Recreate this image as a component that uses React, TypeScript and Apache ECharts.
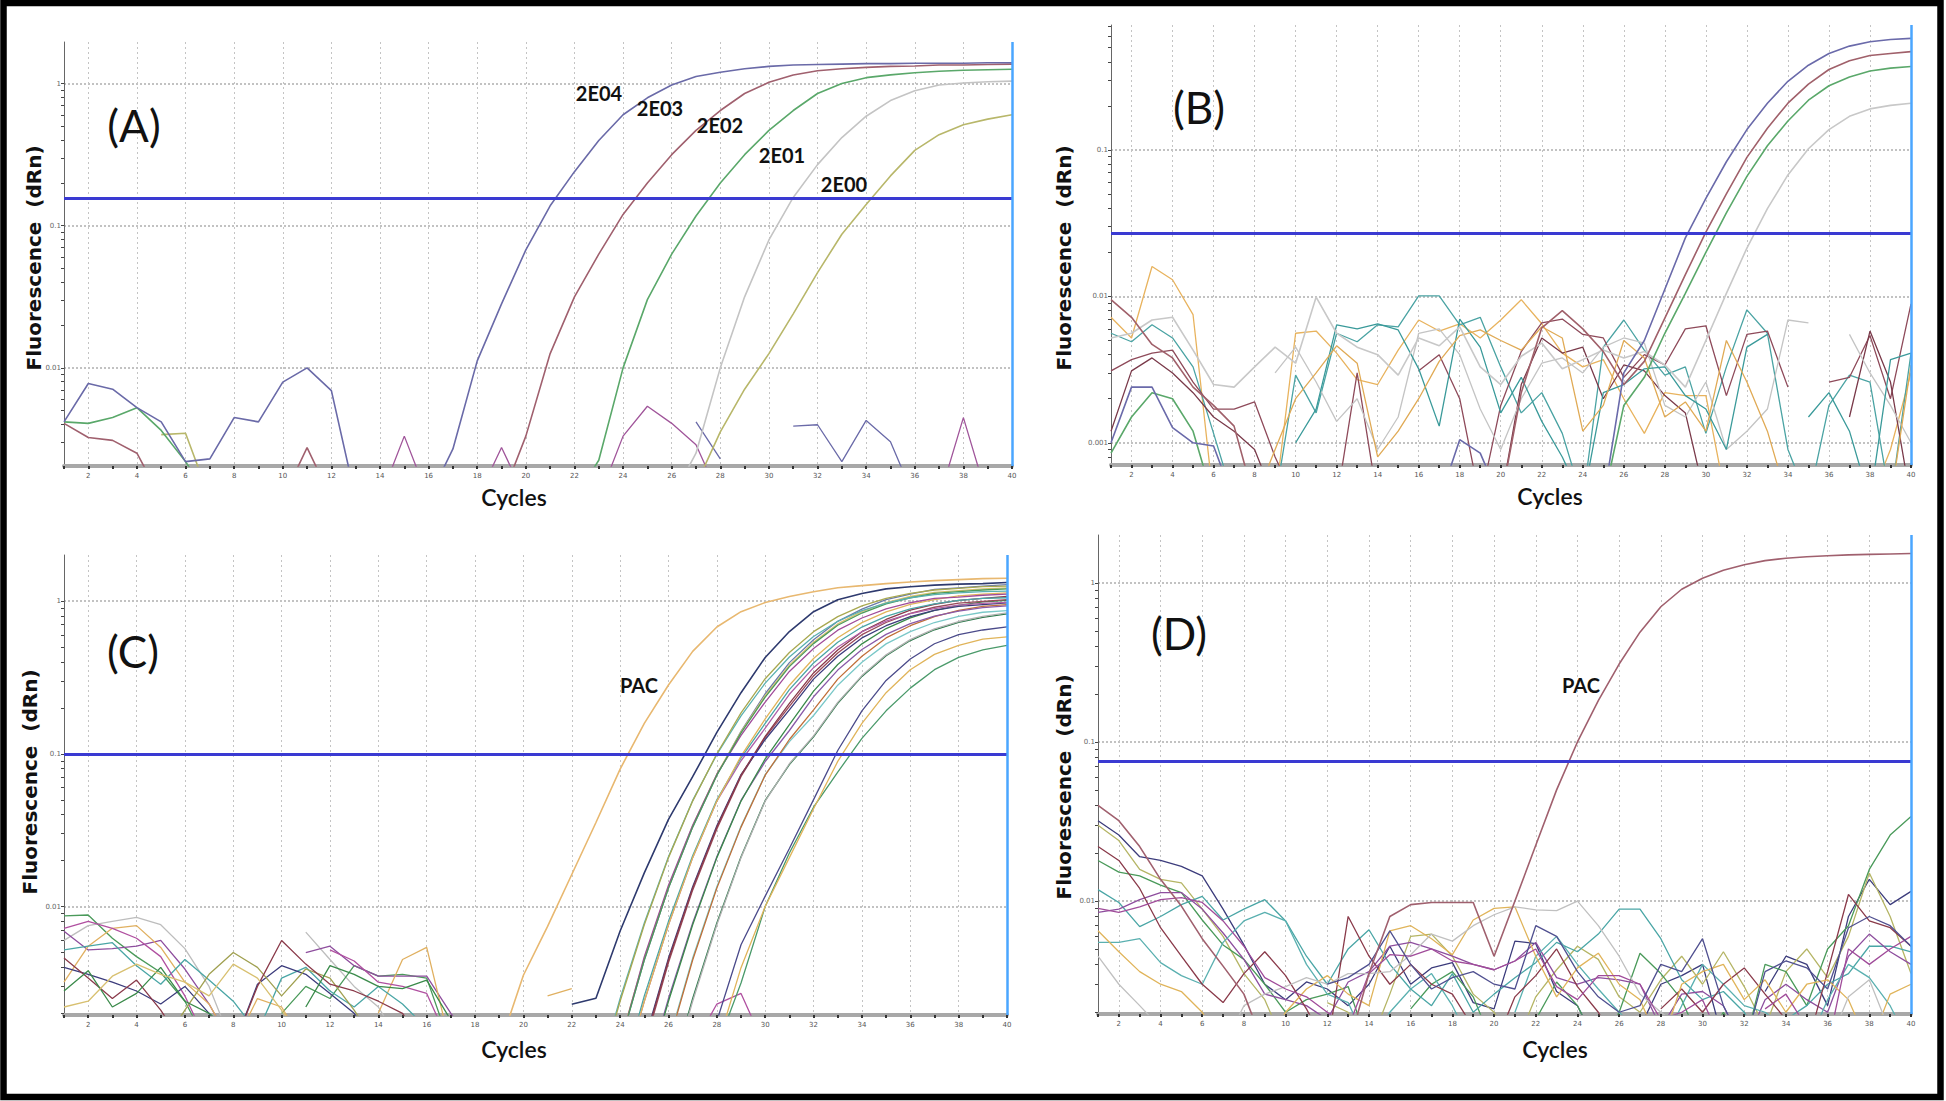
import React, { useEffect, useRef } from "react";
import * as echarts from "echarts";

// ---------- axes ----------
const CYCLES = [1, 2, 3, 4, 5, 6, 7, 8, 9, 10, 11, 12, 13, 14, 15, 16, 17, 18, 19, 20, 21, 22, 23, 24, 25, 26, 27, 28, 29, 30, 31, 32, 33, 34, 35, 36, 37, 38, 39, 40];
const EVEN_CYCLES = [2, 4, 6, 8, 10, 12, 14, 16, 18, 20, 22, 24, 26, 28, 30, 32, 34, 36, 38, 40];
const DECADE_VALUES = [0.001, 0.01, 0.1, 1];
const DECADE_LABELS = ["0.001", "0.01", "0.1", "1"];
const MINOR_TICK_VALUES = [0.0008, 0.0009, 0.001, 0.002, 0.003, 0.004, 0.005, 0.006, 0.007, 0.008, 0.009, 0.01, 0.02, 0.03, 0.04, 0.05, 0.06, 0.07, 0.08, 0.09, 0.1, 0.2, 0.3, 0.4, 0.5, 0.6, 0.7, 0.8, 0.9, 1];

// y ranges (dRn) and thresholds
const A_RANGE = [0.00204, 1.96];
const B_RANGE = [0.000705, 0.715];
const C_RANGE = [0.00195, 2.0];
const D_RANGE = [0.00195, 2.0];
const A_THRESHOLD = 0.154;
const B_THRESHOLD = 0.0268;
const C_THRESHOLD = 0.1;
const D_THRESHOLD = 0.0764;

// ---------- panel A (dRn per cycle, starting at cycle 1) ----------
const A_2E04 = [0.00417, 0.00776, 0.00708, 0.00525, 0.00417, 0.00219, 0.00229, 0.00447, 0.00417, 0.00794,
  0.0100, 0.00692, 0.0012, null, null, 0.0012, 0.00269, 0.0112, 0.0282, 0.0676,
  0.138, 0.240, 0.398, 0.603, 0.794, 0.977, 1.12, 1.20, 1.27, 1.32,
  1.35, 1.36, 1.37, 1.38, 1.38, 1.39, 1.39, 1.39, 1.40, 1.40];
const A_2E03 = [0.00407, 0.00324, 0.00309, 0.00251, 0.0012, null, null, null, null, 0.0012,
  0.00275, 0.0012, null, null, null, null, null, null, 0.0012, 0.00331,
  0.0126, 0.0316, 0.0631, 0.120, 0.200, 0.316, 0.468, 0.646, 0.851, 1.02,
  1.15, 1.23, 1.27, 1.30, 1.32, 1.33, 1.35, 1.35, 1.36, 1.37];
const A_2E02 = [0.00417, 0.00407, 0.00447, 0.00525, 0.00363, 0.00219, 0.0012, null, null, null,
  null, null, null, null, null, null, null, null, null, null,
  null, 0.0012, 0.00224, 0.0100, 0.0302, 0.0631, 0.117, 0.200, 0.316, 0.468,
  0.646, 0.851, 1.00, 1.10, 1.15, 1.19, 1.22, 1.24, 1.25, 1.26];
const A_2E01 = [null, null, null, null, null, null, null, null, null, null,
  null, null, null, null, null, null, null, null, null, null,
  null, null, null, null, null, 0.0012, 0.00251, 0.0100, 0.0316, 0.0794,
  0.158, 0.269, 0.417, 0.589, 0.759, 0.891, 0.977, 1.01, 1.03, 1.04];
const A_2E00 = [null, null, null, null, 0.00339, 0.00347, 0.0012, null, null, null,
  null, null, null, null, null, null, null, null, null, null,
  null, null, null, null, null, null, 0.0015, 0.00355, 0.00708, 0.0126,
  0.0240, 0.0468, 0.0871, 0.141, 0.224, 0.339, 0.437, 0.513, 0.562, 0.603];
const A_NOISE_MAGENTA = [null, null, null, null, null, null, null, null, null, null,
  null, null, null, 0.0012, 0.00331, 0.0012, null, 0.0012, 0.00275, 0.0012,
  null, null, 0.0012, 0.00331, 0.00537, 0.00407, 0.00288, 0.0012, null, null,
  null, null, null, null, null, null, 0.0012, 0.00447, 0.0012, null];
const A_NOISE_BLUE = [null, null, null, null, null, null, null, null, null, null,
  null, null, null, null, null, null, null, null, null, null,
  null, null, null, null, null, null, 0.00417, 0.00229, null, null,
  0.00389, 0.00398, 0.00219, 0.00427, 0.00302, 0.0012, null, null, null, null];

// ---------- panel B ----------
const B_AMP_BLUE = [0.0010, 0.0024, 0.0024, 0.00127, 0.0010, 0.00095, 0.0004, null, null, null,
  null, null, null, null, null, null, 0.0004, 0.00105, 0.00085, 0.0004,
  null, null, null, null, 0.0004, 0.0030, 0.0050, 0.0112, 0.0251, 0.0468,
  0.0832, 0.138, 0.209, 0.295, 0.380, 0.457, 0.513, 0.550, 0.569, 0.579];
const B_AMP_BROWN = [0.0095, 0.0072, 0.0047, 0.0038, 0.0024, 0.0018, 0.0013, 0.0004, null, null,
  null, null, null, null, null, null, null, null, null, 0.0004,
  0.0022, 0.0061, 0.0080, 0.0060, 0.0042, 0.0025, 0.0036, 0.0071, 0.0141, 0.0275,
  0.0501, 0.0891, 0.141, 0.209, 0.282, 0.355, 0.407, 0.442, 0.457, 0.470];
const B_AMP_GREEN = [0.00085, 0.0015, 0.0022, 0.0020, 0.0012, 0.0004, null, null, null, null,
  null, null, null, null, null, null, null, null, null, null,
  null, null, null, null, 0.0004, 0.0018, 0.0028, 0.0056, 0.0105, 0.0200,
  0.0372, 0.0661, 0.107, 0.158, 0.219, 0.275, 0.316, 0.347, 0.363, 0.372];
const B_AMP_GRAY = [0.0052, 0.0056, 0.0069, 0.0072, 0.0043, 0.0025, 0.0024, 0.0033, 0.0045, 0.0035,
  0.0099, 0.0056, 0.0045, 0.0040, 0.0029, 0.0052, 0.0046, 0.0062, 0.0033, 0.0025,
  0.0039, 0.0048, 0.0032, 0.0037, 0.0043, 0.0038, 0.0042, 0.0034, 0.0024, 0.0050,
  0.0105, 0.0214, 0.0398, 0.0676, 0.102, 0.138, 0.170, 0.191, 0.202, 0.209];
const B_NOISE_ORANGE = [0.0072, 0.0052, 0.0160, 0.0130, 0.0075, 0.0004, null, null, 0.0004, 0.0056,
  0.0058, 0.0041, 0.0027, 0.0025, 0.0043, 0.0069, 0.0058, 0.0065, 0.0052, 0.0069,
  0.0095, 0.0065, 0.0041, 0.0033, 0.0037, 0.0020, 0.00116, 0.0022, 0.0021, 0.0021,
  0.0004, null, null, null, null, null, null, 0.0004, 0.0009, 0.0030];
const B_NOISE_TEAL = [0.0056, 0.0049, 0.0064, 0.0052, 0.0033, 0.00116, 0.0004, null, 0.0004, 0.0029,
  0.0016, 0.0056, 0.0049, 0.0064, 0.0062, 0.0101, 0.0101, 0.0064, 0.0072, 0.0033,
  0.0016, 0.0022, 0.00116, 0.0004, 0.0045, 0.0069, 0.0043, 0.0029, 0.0033, 0.00116,
  0.0033, 0.0081, 0.0056, 0.0009, 0.0004, 0.0018, 0.0029, 0.0026, 0.0004, 0.0041];
const B_NOISE_MAROON = [0.0031, 0.0037, 0.0041, 0.0043, 0.0026, 0.0017, 0.0017, 0.0019, 0.0008, 0.0004,
  null, 0.0004, 0.0030, 0.0004, null, 0.0031, 0.0040, 0.0020, 0.0004, 0.0018,
  0.0042, 0.0066, 0.0070, 0.0055, 0.0052, 0.0028, 0.0040, 0.0034, 0.0060, 0.0063,
  0.0021, 0.0055, 0.0058, 0.0024, null, 0.0026, 0.0028, 0.0054, 0.0020, 0.0089];
const B_NOISE_MAROON2 = [0.0012, 0.0031, 0.0038, 0.0030, 0.0022, 0.0015, 0.0012, 0.0009, 0.0004, null,
  null, null, null, null, null, null, null, null, null, 0.0004,
  0.0025, 0.0052, 0.0041, 0.0045, 0.0020, 0.0034, 0.0031, 0.0021, 0.0016, 0.0004,
  null, null, null, null, null, null, 0.0015, 0.0058, 0.0026, 0.0004];
const B_NOISE_GRAY = [null, null, null, null, null, null, null, null, 0.0030, 0.0045,
  0.0026, 0.0014, 0.0020, 0.0009, 0.0015, 0.0056, 0.0060, 0.0040, 0.0017, 0.0009,
  0.0020, 0.0035, 0.0038, 0.0030, 0.0045, 0.0052, 0.0048, 0.0018, 0.0015, 0.0026,
  0.0009, 0.0012, 0.0017, 0.0069, 0.0066, null, 0.0055, 0.0030, 0.0018, 0.0010];
const B_NOISE_TEAL2 = [null, null, null, null, null, null, null, null, null, 0.0010,
  0.0017, 0.0064, 0.0060, 0.0065, 0.0059, 0.0032, 0.0013, 0.0070, 0.0045, 0.0016,
  0.0028, 0.0014, 0.0008, 0.0004, 0.0022, 0.0025, 0.0032, 0.0033, 0.0021, 0.0017,
  0.0009, 0.0045, 0.0055, null, 0.0015, 0.0022, 0.0012, 0.0004, 0.0037, 0.0041];
const B_NOISE_ORANGE2 = [null, null, null, null, null, null, null, 0.0004, 0.0009, 0.0020,
  0.0030, 0.0046, 0.0035, 0.0008, 0.0012, 0.0020, 0.0036, 0.0054, 0.0059, 0.0050,
  0.0043, 0.0062, 0.0052, 0.0012, 0.0018, 0.0050, 0.0038, 0.0015, 0.0019, 0.0012,
  0.0050, 0.0026, 0.0012, 0.0004, null, null, null, null, 0.0004, 0.0034];

// ---------- panel C (curves listed from their first plotted cycle) ----------
const C_PAC = [0.0012, 0.00355, 0.00741, 0.0162, 0.0355, 0.0794, 0.158, 0.282, 0.468, 0.676, 0.851, 0.977, 1.07, 1.15, 1.22, 1.26, 1.30, 1.33, 1.36, 1.38, 1.40, 1.41]; // from cycle 19
const C_S01 = [0.00229, 0.00251, 0.00692, 0.0166, 0.0372, 0.0708, 0.138, 0.251, 0.427, 0.631, 0.851, 1.02, 1.12, 1.20, 1.24, 1.27, 1.29, 1.30, 1.32]; // from 22
const C_S02 = [0.00068, 0.0024, 0.0076, 0.0209, 0.049, 0.100, 0.185, 0.31, 0.46, 0.63, 0.79, 0.93, 1.04, 1.12, 1.18, 1.21, 1.24, 1.25]; // from 23
const C_S03 = [0.0007, 0.0025, 0.0078, 0.0212, 0.0495, 0.099, 0.177, 0.290, 0.430, 0.586, 0.737, 0.866, 0.969, 1.05, 1.10, 1.13, 1.15, 1.16]; // from 23
const C_S04 = [0.00126, 0.00447, 0.0132, 0.0331, 0.0724, 0.137, 0.235, 0.372, 0.526, 0.694, 0.834, 0.957, 1.05, 1.12, 1.15, 1.18, 1.20]; // from 24
const C_S05 = [0.00126, 0.0047, 0.0138, 0.0340, 0.0735, 0.132, 0.218, 0.346, 0.489, 0.644, 0.774, 0.889, 0.974, 1.04, 1.06, 1.09, 1.11]; // from 24
const C_S06 = [0.0013, 0.0046, 0.0135, 0.0338, 0.0735, 0.139, 0.240, 0.380, 0.537, 0.708, 0.851, 0.977, 1.07, 1.14, 1.17, 1.20, 1.22]; // from 24
const C_S07 = [0.00126, 0.00447, 0.0132, 0.0331, 0.0724, 0.140, 0.247, 0.395, 0.558, 0.736, 0.885, 1.02, 1.11, 1.19, 1.22, 1.25, 1.28]; // from 24
const C_S08 = [0.00068, 0.0024, 0.0076, 0.0209, 0.049, 0.0965, 0.169, 0.281, 0.420, 0.574, 0.722, 0.848, 0.949, 1.02, 1.08, 1.11, 1.13]; // from 24
const C_S09 = [0.0007, 0.0026, 0.0080, 0.0215, 0.050, 0.094, 0.158, 0.263, 0.393, 0.537, 0.675, 0.793, 0.887, 0.957, 1.01, 1.04, 1.05]; // from 24
const C_S10 = [0.00068, 0.0024, 0.0076, 0.0209, 0.049, 0.090, 0.147, 0.245, 0.366, 0.500, 0.629, 0.739, 0.826, 0.891, 0.940, 0.964, 0.980]; // from 24
const C_S11 = [0.00126, 0.00447, 0.0132, 0.0331, 0.0724, 0.130, 0.214, 0.338, 0.478, 0.630, 0.757, 0.870, 0.952, 1.01, 1.04, 1.07]; // from 25
const C_S12 = [0.0013, 0.0046, 0.0135, 0.0338, 0.0730, 0.124, 0.194, 0.308, 0.435, 0.573, 0.689, 0.791, 0.867, 0.923, 0.948, 0.972]; // from 25
const C_S13 = [0.0012, 0.0043, 0.0128, 0.0322, 0.0710, 0.128, 0.204, 0.323, 0.456, 0.602, 0.723, 0.830, 0.910, 0.969, 0.995, 1.02]; // from 25
const C_S14 = [0.00068, 0.0024, 0.0076, 0.0209, 0.049, 0.0925, 0.155, 0.257, 0.384, 0.524, 0.660, 0.775, 0.867, 0.935, 0.986, 1.01]; // from 25
const C_S15 = [0.0007, 0.0025, 0.0078, 0.0212, 0.0495, 0.089, 0.142, 0.236, 0.353, 0.481, 0.605, 0.711, 0.796, 0.858, 0.905, 0.928]; // from 25
const C_S16 = [0.00126, 0.00447, 0.0132, 0.0331, 0.0724, 0.124, 0.194, 0.308, 0.435, 0.573, 0.689, 0.791, 0.867, 0.923, 0.948]; // from 26
const C_S17 = [0.0013, 0.0046, 0.0135, 0.0335, 0.0730, 0.120, 0.178, 0.281, 0.397, 0.524, 0.630, 0.723, 0.792, 0.844, 0.866]; // from 26
const C_S18 = [0.00068, 0.0024, 0.0076, 0.0209, 0.049, 0.086, 0.131, 0.217, 0.325, 0.444, 0.559, 0.657, 0.734, 0.792, 0.835]; // from 26
const C_S19 = [0.0007, 0.0025, 0.0078, 0.0212, 0.0495, 0.085, 0.129, 0.214, 0.321, 0.438, 0.551, 0.648, 0.724, 0.781, 0.824]; // from 26
const C_LATE1 = [0.00178, 0.00562, 0.0117, 0.0240, 0.0501, 0.105, 0.191, 0.302, 0.417, 0.525, 0.603, 0.646, 0.676]; // from 28
const C_LATE2 = [0.0012, 0.00398, 0.0100, 0.0209, 0.0437, 0.0891, 0.158, 0.251, 0.355, 0.447, 0.513, 0.562, 0.583]; // from 28
const C_LATE3 = [0.0012, 0.00316, 0.0100, 0.0224, 0.0447, 0.0759, 0.126, 0.191, 0.269, 0.355, 0.427, 0.479, 0.513]; // from 28
// baseline noise, from cycle 1
const C_N01 = [0.0060, 0.0075, 0.0080, 0.0085, 0.0076, 0.0053, 0.0030, 0.0012, null, null, 0.0068, 0.0045, 0.0030, 0.0022, 0.0012];
const C_N02 = [0.0087, 0.0088, 0.0062, 0.0047, 0.0037, 0.0024, 0.0012, null, null, 0.0020, 0.0030, 0.0025, 0.0041, 0.0035, 0.0036, 0.0034, 0.0012];
const C_N03 = [0.0069, 0.0052, 0.0053, 0.0055, 0.0060, 0.0039, 0.0023, 0.0012, null, null, 0.0050, 0.0055, 0.0041, 0.0035, 0.0035, 0.0035, 0.0020, 0.0012];
const C_N04 = [0.0032, 0.0055, 0.0072, 0.0075, 0.0054, 0.0032, 0.0023, 0.0012, 0.0025, 0.0022, 0.0012, null, null, 0.0020, 0.0045, 0.0054, 0.0012];
const C_N05 = [0.0052, 0.0055, 0.0058, 0.0041, 0.0031, 0.0045, 0.0033, 0.0024, 0.0015, 0.0034, 0.0040, 0.0028, 0.0022, 0.0030, 0.0023, 0.0016, 0.0012];
const C_N06 = [0.0072, 0.0080, 0.0072, 0.0062, 0.0047, 0.0026, 0.0012, null, null, null, null, 0.0052, 0.0044, 0.0032, 0.0030, 0.0027, 0.0012, null, null, null, null, null, null, null, null, null, 0.0012, 0.0023, 0.0027, 0.0012];
const C_N07 = [0.0040, 0.0036, 0.0032, 0.0028, 0.0023, 0.0030, 0.0020, 0.0012, 0.0031, 0.0041, 0.0036, 0.0027, 0.0020, 0.0012];
const C_N08 = [null, null, null, null, 0.0012, 0.0021, 0.0036, 0.0050, 0.0040, 0.0026, 0.0039, 0.0034, 0.0021, 0.0012];
const C_N09 = [0.0046, 0.0034, 0.0025, 0.0033, 0.0021, 0.0012, null, 0.0012, 0.0030, 0.0060, 0.0042, 0.0031, 0.0028, 0.0024, 0.0020, 0.0012];
const C_N10 = [0.0028, 0.0038, 0.0022, 0.0027, 0.0040, 0.0024, 0.0020, 0.0015, 0.0012, null, 0.0022, 0.0041, 0.0036, 0.0030, 0.0029, 0.0033, 0.0018, 0.0012];
const C_N11 = [0.0022, 0.0024, 0.0035, 0.0042, 0.0036, 0.0032, 0.0026, 0.0042, 0.0034, 0.0021, 0.0012];
const C_N12 = [0.0026, 0.0029]; // from 21

// ---------- panel D ----------
const D_PAC = [0.040, 0.032, 0.022, 0.0137, 0.0093, 0.0058, 0.0039, 0.0026, 0.0012, null,
  null, null, 0.0012, 0.0035, 0.0080, 0.0095, 0.0098, 0.0098, 0.0098, 0.0045,
  0.0100, 0.0224, 0.0500, 0.100, 0.182, 0.309, 0.490, 0.708, 0.912, 1.07,
  1.20, 1.30, 1.38, 1.43, 1.46, 1.48, 1.50, 1.51, 1.52, 1.53];
const D_N01 = [0.032, 0.026, 0.019, 0.018, 0.0165, 0.0144, 0.0089, 0.0053, 0.0030, 0.0024,
  0.0031, 0.0028, 0.0022, 0.0030, 0.0052, 0.0030, 0.0038, 0.0041, 0.0023, 0.0021,
  0.0056, 0.0054, 0.0027, 0.0022, 0.0012, null, 0.0016, 0.0030, 0.0034, 0.0040,
  0.0013, null, 0.0027, 0.0045, 0.0040, 0.0022, 0.0080, 0.0137, 0.0095, 0.0115];
const D_N02 = [0.030, 0.024, 0.0158, 0.0137, 0.013, 0.0089, 0.0060, 0.0035, 0.0024, 0.0012,
  null, 0.0023, 0.0020, 0.0012, 0.0026, 0.0060, 0.0062, 0.0045, 0.0026, 0.0020,
  0.0012, 0.0025, 0.0037, 0.0052, 0.0043, 0.0025, 0.0020, 0.0032, 0.0045, 0.0030,
  0.0048, 0.0029, 0.0016, 0.0036, 0.0050, 0.0033, 0.0060, 0.0150, 0.0080, 0.0035];
const D_N03 = [0.018, 0.0152, 0.0144, 0.0126, 0.0113, 0.0076, 0.0053, 0.0043, 0.0030, 0.0020,
  0.0024, 0.0026, 0.0029, 0.0012, null, 0.0021, 0.0030, 0.0036, 0.0025, 0.0012,
  null, 0.0018, 0.0031, 0.0022, 0.0012, 0.0020, 0.0047, 0.0035, 0.0024, 0.0012,
  0.0020, 0.0012, 0.0040, 0.0036, 0.0022, 0.0050, 0.0070, 0.0158, 0.026, 0.034];
const D_N04 = [0.0118, 0.0098, 0.0069, 0.0080, 0.0095, 0.0107, 0.0076, 0.0089, 0.0102, 0.0075,
  0.0045, 0.0030, 0.0050, 0.0066, 0.0040, 0.0028, 0.0022, 0.0035, 0.0020, 0.0026,
  0.0033, 0.0041, 0.0055, 0.0048, 0.0062, 0.0089, 0.0089, 0.0058, 0.0032, 0.0024,
  0.0027, 0.0020, 0.0012, 0.0018, 0.0022, 0.0030, 0.0035, 0.0052, 0.0052, 0.0048];
const D_N05 = [0.0085, 0.0089, 0.0102, 0.0113, 0.0113, 0.0089, 0.0063, 0.0043, 0.0026, 0.0024,
  0.0022, 0.0018, 0.0031, 0.0036, 0.0052, 0.0055, 0.0050, 0.0045, 0.0040, 0.0037,
  0.0042, 0.0055, 0.0033, 0.0030, 0.0033, 0.0032, 0.0030, 0.0016, 0.0026, 0.0027,
  0.0022, 0.0012, 0.0024, 0.0030, 0.0024, 0.0020, 0.0045, 0.0062, 0.0048, 0.0040];
const D_N06 = [0.0055, 0.0055, 0.0058, 0.0041, 0.0034, 0.0030, 0.0055, 0.0075, 0.0085, 0.0075,
  0.0040, 0.0026, 0.0023, 0.0012, 0.0020, 0.0028, 0.0035, 0.0022, 0.0012, null,
  0.0020, 0.0045, 0.0060, 0.0040, 0.0028, 0.0020, 0.0015, 0.0012, 0.0022, 0.0040,
  0.0030, 0.0022, 0.0020, 0.0016, 0.0012, 0.0024, 0.0040, 0.0033, 0.0022, 0.0012];
const D_N07 = [0.022, 0.018, 0.012, 0.0068, 0.0045, 0.0030, 0.0023, 0.0035, 0.0048, 0.0034,
  0.0021, 0.0012, 0.0080, 0.0045, 0.0030, 0.0040, 0.0030, 0.0026, 0.0016, 0.0012,
  0.0025, 0.0034, 0.0050, 0.0029, 0.0020, 0.0012, null, 0.0021, 0.0028, 0.0020,
  0.0030, 0.0038, 0.0026, 0.0018, 0.0012, 0.0036, 0.0110, 0.0075, 0.0068, 0.0052];
const D_N08 = [0.0065, 0.0048, 0.0036, 0.0030, 0.0027, 0.0020, 0.0012, null, 0.0012, 0.0020,
  0.0028, 0.0034, 0.0026, 0.0022, 0.0065, 0.0070, 0.0058, 0.0046, 0.0076, 0.0090,
  0.0092, 0.0045, 0.0025, 0.0038, 0.0047, 0.0030, 0.0024, 0.0012, 0.0030, 0.0036,
  0.0040, 0.0024, 0.0032, 0.0020, 0.0030, 0.0032, 0.0024, 0.0012, 0.0026, 0.0030];
const D_N09 = [0.0045, 0.0030, 0.0022, 0.0016, 0.0012, null, 0.0012, 0.0022, 0.0026, 0.0029,
  0.0033, 0.0030, 0.0035, 0.0035, 0.0036, 0.0046, 0.0062, 0.0056, 0.0070, 0.0082,
  0.0092, 0.0088, 0.0087, 0.0100, 0.0070, 0.0045, 0.0026, 0.0020, 0.0016, 0.0012,
  null, null, null, null, null, 0.0012, 0.0025, 0.0032, 0.0015, 0.0012];
const D_N10 = [0.0090, 0.0085, 0.0092, 0.0102, 0.0105, 0.0098, 0.0075, 0.0052, 0.0033, 0.0028,
  0.0025, 0.0020, 0.0016, 0.0035, 0.0046, 0.0045, 0.0050, 0.0042, 0.0040, 0.0037,
  0.0042, 0.0050, 0.0029, 0.0024, 0.0034, 0.0034, 0.0030, 0.0018, 0.0020, 0.0024,
  0.0012, null, 0.0021, 0.0026, 0.0016, 0.0012, 0.0050, 0.0040, 0.0050, 0.0060];
const D_N11 = [null, null, null, null, null, null, null, null, null, null,
  null, 0.0030, 0.0033, 0.0040, 0.0065, 0.0040, 0.0028, 0.0033, 0.0036, 0.0030,
  0.0028, 0.0070, 0.0060, 0.0036, 0.0025, 0.0020, 0.0022, 0.0040, 0.0036, 0.0058,
  0.0022, 0.0012, 0.0036, 0.0042, 0.0038, 0.0028, 0.0068, 0.0080, 0.0070, 0.0052];

// ---------- series lists ----------
type Curve = { color: string; start: number; values: (number | null)[]; width?: number };

const A_CURVES: Curve[] = [
  { color: "#a0559a", start: 1, values: A_NOISE_MAGENTA },
  { color: "#6a6aa8", start: 1, values: A_NOISE_BLUE },
  { color: "#b8b76a", start: 1, values: A_2E00, width: 1.6 },
  { color: "#c4c4c4", start: 1, values: A_2E01, width: 1.6 },
  { color: "#5aa86a", start: 1, values: A_2E02, width: 1.6 },
  { color: "#a0606e", start: 1, values: A_2E03, width: 1.6 },
  { color: "#6a6aa8", start: 1, values: A_2E04, width: 1.6 },
];
const B_CURVES: Curve[] = [
  { color: "#e8b35e", start: 1, values: B_NOISE_ORANGE },
  { color: "#4aa3a3", start: 1, values: B_NOISE_TEAL },
  { color: "#8e4a5a", start: 1, values: B_NOISE_MAROON },
  { color: "#7a3a4a", start: 1, values: B_NOISE_MAROON2 },
  { color: "#c4c4c4", start: 1, values: B_NOISE_GRAY },
  { color: "#3a9a9a", start: 1, values: B_NOISE_TEAL2 },
  { color: "#e0aa55", start: 1, values: B_NOISE_ORANGE2 },
  { color: "#c8c8c8", start: 1, values: B_AMP_GRAY, width: 1.6 },
  { color: "#5aa86a", start: 1, values: B_AMP_GREEN, width: 1.6 },
  { color: "#a0606a", start: 1, values: B_AMP_BROWN, width: 1.6 },
  { color: "#6a6aaa", start: 1, values: B_AMP_BLUE, width: 1.6 },
];
const C_CURVES: Curve[] = [
  { color: "#bdbdbd", start: 1, values: C_N01 },
  { color: "#4a9a5a", start: 1, values: C_N02 },
  { color: "#8e4e9e", start: 1, values: C_N03 },
  { color: "#e0b060", start: 1, values: C_N04 },
  { color: "#4aa6a6", start: 1, values: C_N05 },
  { color: "#b050a0", start: 1, values: C_N06 },
  { color: "#3c3c7c", start: 1, values: C_N07 },
  { color: "#a0a050", start: 1, values: C_N08 },
  { color: "#8a3a4a", start: 1, values: C_N09 },
  { color: "#3a8a4a", start: 1, values: C_N10 },
  { color: "#d8c070", start: 1, values: C_N11 },
  { color: "#e0b060", start: 21, values: C_N12 },
  { color: "#4a9a6a", start: 28, values: C_LATE3 },
  { color: "#e0b45a", start: 28, values: C_LATE2 },
  { color: "#4a4a8a", start: 28, values: C_LATE1 },
  { color: "#2a7a4a", start: 26, values: C_S19 },
  { color: "#b0b0b0", start: 26, values: C_S18 },
  { color: "#7ac8c8", start: 26, values: C_S17 },
  { color: "#c0703a", start: 26, values: C_S16 },
  { color: "#8a5aa8", start: 25, values: C_S15 },
  { color: "#3a8a4a", start: 25, values: C_S14 },
  { color: "#9a4a5a", start: 25, values: C_S13 },
  { color: "#3c3c7c", start: 25, values: C_S12 },
  { color: "#8a3a4a", start: 25, values: C_S11 },
  { color: "#b060a8", start: 24, values: C_S10 },
  { color: "#4aa6a6", start: 24, values: C_S09 },
  { color: "#e0b45a", start: 24, values: C_S08 },
  { color: "#6a7aa8", start: 24, values: C_S07 },
  { color: "#d8c070", start: 24, values: C_S06 },
  { color: "#a04c9a", start: 24, values: C_S05 },
  { color: "#4a9a5a", start: 24, values: C_S04 },
  { color: "#5ab0b0", start: 23, values: C_S03 },
  { color: "#a8a850", start: 23, values: C_S02 },
  { color: "#2e3a6e", start: 22, values: C_S01, width: 1.6 },
  { color: "#e8b870", start: 19, values: C_PAC, width: 1.6 },
];
const D_CURVES: Curve[] = [
  { color: "#3c3c7c", start: 1, values: D_N01 },
  { color: "#b5b565", start: 1, values: D_N02 },
  { color: "#4a9a5a", start: 1, values: D_N03 },
  { color: "#4aa6a6", start: 1, values: D_N04 },
  { color: "#8e4e9e", start: 1, values: D_N05 },
  { color: "#5ab0b0", start: 1, values: D_N06 },
  { color: "#8a3a4a", start: 1, values: D_N07 },
  { color: "#e0b45a", start: 1, values: D_N08 },
  { color: "#c0c0c0", start: 1, values: D_N09 },
  { color: "#a04c9a", start: 1, values: D_N10 },
  { color: "#505090", start: 1, values: D_N11 },
  { color: "#a0606e", start: 1, values: D_PAC, width: 1.6 },
];

// ---------- layout ----------
const PANELS = [
  { grid: { left: 64, top: 42, width: 948, height: 424 }, range: A_RANGE, threshold: A_THRESHOLD, curves: A_CURVES },
  { grid: { left: 1111, top: 25, width: 800, height: 440 }, range: B_RANGE, threshold: B_THRESHOLD, curves: B_CURVES },
  { grid: { left: 64, top: 555, width: 943, height: 460 }, range: C_RANGE, threshold: C_THRESHOLD, curves: C_CURVES },
  { grid: { left: 1098, top: 535, width: 813, height: 479 }, range: D_RANGE, threshold: D_THRESHOLD, curves: D_CURVES },
];
const PANEL_LABELS = [
  { text: "(A)", x: 134, y: 125 },
  { text: "(B)", x: 1199, y: 107 },
  { text: "(C)", x: 133, y: 651 },
  { text: "(D)", x: 1179, y: 633 },
];
const CURVE_LABELS = [
  { text: "2E04", x: 599, y: 93 },
  { text: "2E03", x: 660, y: 108 },
  { text: "2E02", x: 720, y: 125 },
  { text: "2E01", x: 782, y: 155 },
  { text: "2E00", x: 844, y: 184 },
  { text: "PAC", x: 639, y: 685 },
  { text: "PAC", x: 1581, y: 685 },
];
const X_TITLES = [
  { x: 514, y: 497 },
  { x: 1550, y: 496 },
  { x: 514, y: 1049 },
  { x: 1555, y: 1049 },
];
const Y_TITLES = [
  { x: 34, y: 258 },
  { x: 1064, y: 258 },
  { x: 30, y: 782 },
  { x: 1064, y: 787 },
];

const SANS = "Lato, 'Open Sans', 'DejaVu Sans', sans-serif";

function buildOption() {
  const grids: any[] = [];
  const xAxes: any[] = [];
  const yAxes: any[] = [];
  const series: any[] = [];
  const graphic: any[] = [];

  PANELS.forEach((p, i) => {
    grids.push({ ...p.grid, containLabel: false });
    const lo = Math.log10(p.range[0]);
    const hi = Math.log10(p.range[1]);
    const decades = DECADE_VALUES.map((v) => Math.log10(v)).filter((v) => v >= lo && v <= hi);
    const minors = MINOR_TICK_VALUES.map((v) => Math.log10(v)).filter((v) => v >= lo && v <= hi);

    xAxes.push({
      gridIndex: i, type: "value", min: 1, max: 40, position: "bottom",
      axisLine: { show: true, onZero: false, lineStyle: { color: "#a8a8a8", width: 4 } },
      axisTick: { show: true, customValues: CYCLES, length: 3, lineStyle: { color: "#333", width: 2 } },
      axisLabel: { show: true, customValues: EVEN_CYCLES, fontSize: 7, color: "#555", margin: 6, fontFamily: "DejaVu Sans" },
      splitLine: { show: false },
    });
    xAxes.push({
      gridIndex: i, type: "value", min: 1, max: 40, position: "bottom",
      axisLine: { show: false },
      axisTick: { show: false, customValues: EVEN_CYCLES },
      axisLabel: { show: false, customValues: EVEN_CYCLES },
      splitLine: { show: true, lineStyle: { color: "#c4c4c4", width: 1, type: [2, 3] } },
    });
    yAxes.push({
      gridIndex: i, type: "value", min: lo, max: hi, position: "left",
      axisLine: { show: true, onZero: false, lineStyle: { color: "#666", width: 1 } },
      axisTick: { show: true, customValues: minors, length: 3, lineStyle: { color: "#444", width: 1 } },
      axisLabel: {
        show: true, customValues: decades, fontSize: 7, color: "#666", margin: 3, fontFamily: "DejaVu Sans",
        formatter: (v: number) => {
          const idx = DECADE_VALUES.findIndex((d) => Math.abs(Math.log10(d) - v) < 1e-6);
          return idx >= 0 ? DECADE_LABELS[idx] : "";
        },
      },
      splitLine: { show: false },
    });
    yAxes.push({
      gridIndex: i, type: "value", min: lo, max: hi, position: "left",
      axisLine: { show: false },
      axisTick: { show: false, customValues: decades },
      axisLabel: { show: false, customValues: decades },
      splitLine: { show: true, lineStyle: { color: "#c2c2c2", width: 2, type: [2, 2] } },
    });

    p.curves.forEach((c, k) => {
      const isLast = k === p.curves.length - 1;
      series.push({
        type: "line",
        xAxisIndex: 2 * i,
        yAxisIndex: 2 * i,
        data: c.values.map((v, j) => [CYCLES[c.start - 1 + j], v == null ? null : Math.log10(v)]),
        showSymbol: false,
        symbol: "none",
        silent: true,
        clip: true,
        connectNulls: false,
        emphasis: { disabled: true },
        lineStyle: { color: c.color, width: c.width || 1.3 },
        itemStyle: { color: c.color },
        markLine: isLast
          ? {
              silent: true,
              symbol: ["none", "none"],
              label: { show: false },
              emphasis: { disabled: true },
              data: [
                { yAxis: Math.log10(p.threshold), lineStyle: { color: "#3a3ad2", width: 3, type: "solid" } },
                { xAxis: 40, lineStyle: { color: "#4aa6ff", width: 2.5, type: "solid" } },
              ],
            }
          : undefined,
      });
    });
  });

  graphic.push({
    type: "rect", z: 100,
    shape: { x: 3.5, y: 3, width: 1937, height: 1094 },
    style: { fill: "none", stroke: "#000", lineWidth: 6.5 },
  });
  PANEL_LABELS.forEach((l) => {
    graphic.push({
      type: "text", x: l.x, y: l.y, z: 100,
      style: { text: l.text, fontSize: 44, fontFamily: SANS, fill: "#111", align: "center", verticalAlign: "middle", textAlign: "center", textVerticalAlign: "middle" },
    });
  });
  CURVE_LABELS.forEach((l) => {
    graphic.push({
      type: "text", x: l.x, y: l.y, z: 100,
      style: { text: l.text, fontSize: 20, fontWeight: "bold", fontFamily: SANS, fill: "#111", align: "center", verticalAlign: "middle", textAlign: "center", textVerticalAlign: "middle" },
    });
  });
  X_TITLES.forEach((l) => {
    graphic.push({
      type: "text", x: l.x, y: l.y, z: 100,
      style: { text: "Cycles", fontSize: 23, fontWeight: 600, fontFamily: SANS, fill: "#111", align: "center", verticalAlign: "middle", textAlign: "center", textVerticalAlign: "middle" },
    });
  });
  Y_TITLES.forEach((l) => {
    graphic.push({
      type: "text", x: l.x, y: l.y, z: 100, rotation: Math.PI / 2,
      style: { text: "Fluorescence\u00a0 (dRn)", fontSize: 20, fontWeight: "bold", fontFamily: "'DejaVu Sans', Verdana, sans-serif", fill: "#111", align: "center", verticalAlign: "middle", textAlign: "center", textVerticalAlign: "middle" },
    });
  });

  return {
    animation: false,
    backgroundColor: "#ffffff",
    tooltip: { show: false },
    grid: grids,
    xAxis: xAxes,
    yAxis: yAxes,
    series,
    graphic,
  };
}

export default function App() {
  const ref = useRef<HTMLDivElement>(null);
  useEffect(() => {
    document.body.style.margin = "0";
    document.body.style.overflow = "hidden";
    if (!ref.current) return;
    const chart = echarts.init(ref.current, null, { renderer: "svg" });
    chart.setOption(buildOption() as any);
    return () => chart.dispose();
  }, []);
  return (
    <div
      ref={ref}
      style={{ position: "absolute", left: 0, top: 0, width: 1946, height: 1101, background: "#fff" }}
    />
  );
}
